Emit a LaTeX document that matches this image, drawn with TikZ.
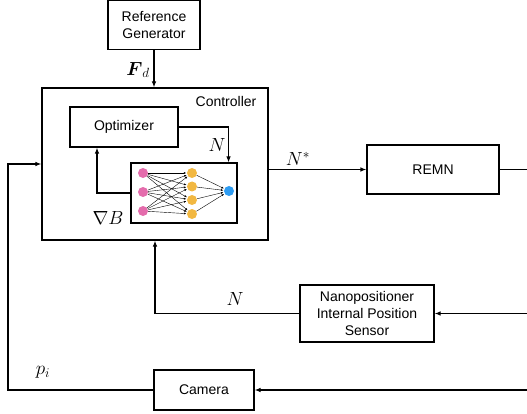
\RequirePackage{fix-cm}
\documentclass[tikz,border=0pt]{standalone}
\usepackage{amsmath}
\usepackage{fontspec}
\setmainfont{Liberation Sans}
\usetikzlibrary{arrows.meta, positioning, calc}

\definecolor{inpink}{RGB}{228,108,172}
\definecolor{hidyellow}{RGB}{242,184,66}
\definecolor{outblue}{RGB}{46,156,242}

\begin{document}
\begin{tikzpicture}[
    x=1pt, y=-1pt,
    blk/.style={draw, rectangle, line width=1.1pt, inner sep=0pt, align=center,
                font=\fontsize{14}{17}\selectfont},
    sig/.style={font=\fontsize{19}{22}\selectfont},
    wire/.style={line width=1.1pt},
    neuron/.style={circle, inner sep=0pt, minimum size=10pt},
    syn/.style={line width=0.4pt, -{Latex[length=2.5pt,width=2pt]}, shorten >=0.5pt},
    >={Latex[length=6pt,width=4.5pt]}
]
\useasboundingbox (0,0) rectangle (527,414);
%% Blocks
\node[blk, minimum width=92pt, minimum height=49pt] (refgen) at (154,25) {Reference\\Generator};
\node[blk, minimum width=226pt, minimum height=152pt] (ctrl) at (155,164) {};
\node[blk, minimum width=108pt, minimum height=40pt] (opt) at (124,127) {Optimizer};
\node[blk, minimum width=106pt, minimum height=60pt] (nn) at (184,193) {};
\node[blk, minimum width=132pt, minimum height=49pt] (remn) at (433,169.5) {REMN};
\node[blk, minimum width=134pt, minimum height=57pt] (nps) at (367,313.5) {Nanopositioner\\Internal Position\\Sensor};
\node[blk, minimum width=100pt, minimum height=40pt] (cam) at (204,390) {Camera};
\node[font=\fontsize{14}{17}\selectfont] (ctrllbl) at (226,101) {Controller};
%% Neural network inside nn
\foreach \i/\y in {1/173, 2/192, 3/211}
    \node[neuron, fill=inpink] (in\i) at (143,\y) {};
\foreach \j/\y in {1/173, 2/186.5, 3/200, 4/214}
    \node[neuron, fill=hidyellow] (hid\j) at (192,\y) {};
\node[neuron, fill=outblue] (outn) at (229,191) {};
\foreach \i in {1,2,3}
    \foreach \j in {1,2,3,4}
        \draw[syn] (in\i) -- (hid\j);
\foreach \j in {1,2,3,4}
    \draw[syn] (hid\j) -- (outn);
%% Edge of the picture for the incoming wires
\coordinate (edge) at (527,0);
\coordinate (fbx) at (8,0);
%% Connectors
\draw[wire, ->] (refgen.south) -- (refgen.south |- ctrl.north);
\draw[wire, ->] (opt.east) -| ([xshift=-9pt]nn.north east);
\draw[wire, ->] (nn.west) -| ([xshift=-27pt]opt.south);
\draw[wire, ->] (ctrl.east |- remn.west) -- (remn.west);
\draw[wire] (remn.east) -- (remn.east -| edge);
\draw[wire, ->] (nps.east -| edge) -- (nps.east);
\draw[wire, ->] (nps.west) -| (ctrl.south);
\draw[wire, ->] (cam.east -| edge) -- (cam.east);
\draw[wire, ->] (cam.west) -- (cam.west -| fbx) |- (ctrl.west);
%% Signal labels
\node[sig] (fd) at (138,70) {$\boldsymbol{F}_d$};
\node[sig] (nopt) at (217,145) {$N$};
\node[sig] (gradb) at (108,218) {$\nabla B$};
\node[sig] (nstar) at (298,159) {$N^{*}$};
\node[sig] (nsens) at (235,299) {$N$};
\node[sig] (pcam) at (43,372) {$p_i$};
\end{tikzpicture}
\end{document}
